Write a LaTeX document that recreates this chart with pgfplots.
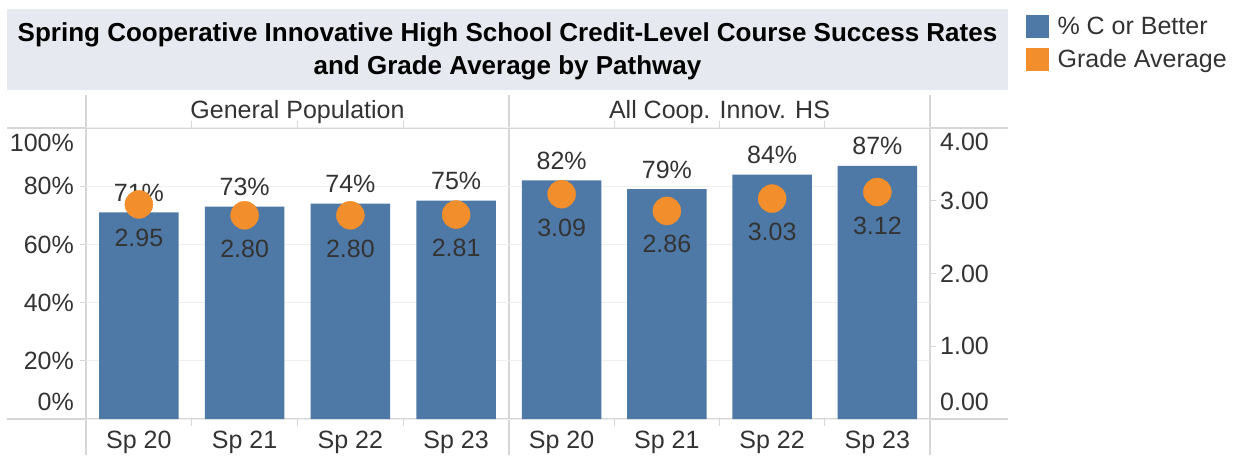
\documentclass[border=0pt]{standalone}
\usepackage{pgfplots}
\pgfplotsset{compat=1.18}
\usepackage{pgfplotstable}
\usepackage{fontspec}
\setmainfont{Liberation Sans}
\definecolor{barblue}{HTML}{4E79A7}
\definecolor{dotorange}{HTML}{F28E2B}
\definecolor{titlebg}{HTML}{E6E9EF}
\definecolor{rulec}{HTML}{D6D6D6}
\definecolor{gridc}{HTML}{EFEFEF}
\definecolor{txt}{HTML}{333333}
\newcommand{\chartfont}{\fontsize{25pt}{30pt}\selectfont}

\pgfplotstableread{
x pct grade
0 71 2.95
1 73 2.80
2 74 2.80
3 75 2.81
}\genpop
\pgfplotstableread{
x pct grade
0 82 3.09
1 79 2.86
2 84 3.03
3 87 3.12
}\coop

\pgfplotsset{
  panel/.style={scale only axis, width=#1, height=291pt, xmin=-0.5, xmax=3.5,
    clip=false, axis line style={draw=none},
    /pgf/number format/assume math mode=true,
    every tick label/.append style={font=\chartfont, text=txt, inner sep=0pt},
    tick align=outside, major tick length=6pt},
  barpanel/.style={panel=#1, ymin=0, ymax=100,
    ytick={0,20,40,60,80,100},
    ymajorgrids, grid style={gridc, line width=1pt},
    ytick style={draw=rulec, line width=1pt},
    xtick={0,1,2,3}, xticklabels={Sp 20,Sp 21,Sp 22,Sp 23},
    xtick style={draw=none},
    xticklabel style={yshift=-6pt},
    extra x ticks={0.5,1.5,2.5}, extra x tick labels={},
    extra x tick style={xtick style={draw=rulec, line width=1pt}, major tick length=7pt, grid=none}},
  dotpanel/.style={panel=#1, ymin=0, ymax=4},
  barplot/.style={ybar, bar width=79.5pt, fill=barblue, draw=none,
    nodes near coords={\pgfmathprintnumber[assume math mode=true]{\pgfplotspointmeta}\%},
    every node near coord/.append style={font=\chartfont, text=txt, anchor=base, yshift=11pt, inner sep=0pt}},
  dotplot/.style={dotorange, only marks, mark=*, mark size=14pt, mark options={fill=dotorange, draw=dotorange},
    nodes near coords={\pgfmathprintnumber[fixed,zerofill,precision=2,assume math mode=true]{\pgfplotspointmeta}},
    every node near coord/.append style={font=\chartfont, text=txt, anchor=base, yshift=-42pt, inner sep=0pt}},
}

\begin{document}
\begin{tikzpicture}[x=1pt,y=1pt]
\useasboundingbox (0,0) rectangle (1249,455);
% title box
\fill[titlebg] (7,365) rectangle (1008,446);
\node[align=center, font=\bfseries\fontsize{26pt}{33pt}\selectfont, text=black, inner sep=0pt]
  at (507.5,403.5) {Spring Cooperative Innovative High School Credit-Level Course Success Rates\\and Grade Average by Pathway};
% structural rules
\draw[rulec, line width=1.3pt] (7,327) -- (1008,327);
\draw[rulec, line width=1.3pt] (7,36) -- (1008,36);
\foreach \xx in {86,509,930} \draw[rulec, line width=1.3pt] (\xx,0) -- (\xx,360);
% panel headers
\node[font=\chartfont, text=txt, anchor=base, inner sep=0pt] at (297.5,336) {General Population};
\node[font=\chartfont, text=txt, anchor=base, inner sep=0pt] at (719.5,336) {All Coop. Innov. HS};

% ---- panel 1: General Population
\begin{axis}[barpanel=423pt, at={(86pt,36pt)}, anchor=south west,
  yticklabels={,20\%,40\%,60\%,80\%,},
  yticklabel style={xshift=-6pt},
  extra y ticks={5.84,94.8}, extra y tick labels={0\%,100\%},
  extra y tick style={ytick style={draw=none}, grid=none}]
\addplot[barplot] table[x=x,y=pct]{\genpop};
\end{axis}
\begin{axis}[dotpanel=423pt, at={(86pt,36pt)}, anchor=south west, hide axis]
\addplot[dotplot] table[x=x,y=grade]{\genpop};
\end{axis}

% ---- panel 2: All Coop. Innov. HS
\begin{axis}[barpanel=421pt, at={(509pt,36pt)}, anchor=south west,
  yticklabels={}, ytick style={draw=none}]
\addplot[barplot] table[x=x,y=pct]{\coop};
\end{axis}
\begin{axis}[dotpanel=421pt, at={(509pt,36pt)}, anchor=south west,
  xtick=\empty, ytick={1,2,3}, yticklabels={1.00,2.00,3.00},
  ytick pos=right, yticklabel pos=right,
  ytick style={draw=rulec, line width=1pt},
  yticklabel style={xshift=4pt},
  extra y ticks={0.234,3.807}, extra y tick labels={0.00,4.00},
  extra y tick style={ytick style={draw=none}},
  legend style={at={(1.228,1.388)}, anchor=north west, draw=none, fill=none,
    font=\chartfont, text=txt, inner sep=0pt, row sep=10pt, column sep=9pt,
    nodes={inner sep=0pt}},
  legend cell align=left]
\addplot[dotplot, forget plot] table[x=x,y=grade]{\coop};
\addlegendimage{legend image code/.code={\fill[barblue] (0pt,-11pt) rectangle (22pt,11pt);}}
\addlegendentry{\% C or Better}
\addlegendimage{legend image code/.code={\fill[dotorange] (0pt,-11pt) rectangle (22pt,11pt);}}
\addlegendentry{Grade Average}
\end{axis}
\end{tikzpicture}
\end{document}
